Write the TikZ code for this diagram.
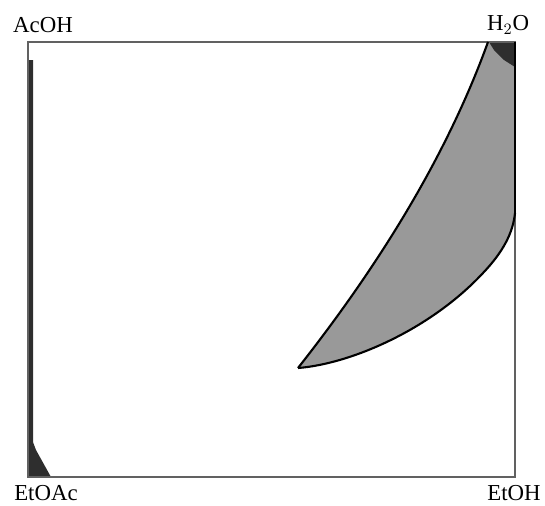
\documentclass[tikz,border=0pt]{standalone}
\usepackage{fontspec}
\setmainfont{Liberation Serif}
\begin{document}
\begin{tikzpicture}[x=0.02cm, y=-0.02cm, font=\fontsize{13}{15}\selectfont,
      frame/.style={draw=black!62, line width=1.1pt},
      region/.style={fill=black!40},
      edge/.style={draw=black, line width=1.2pt, line join=round},
      dark/.style={fill=black!82}]
    \useasboundingbox (0,0) rectangle (545,505);
    \coordinate (tl) at (28,42);
    \coordinate (br) at (515,477);
    \coordinate (tip) at (298,368);
    \coordinate (top) at (488,42);
    \coordinate (bend) at (483,273);
    \coordinate (side) at (515,213);
    \fill[region] (tip) .. controls (387,255) and (450,147) .. (top)
      -- (515,42) -- (side)
      .. controls (513,233) and (503,252) .. (bend)
      .. controls (430,330) and (350,364) .. (tip) -- cycle;
    \fill[dark] (489,42) -- (515,42) -- (515,67) -- (504,60) -- (494,50) -- cycle;
    \fill[dark] (28,60) -- (33,60) -- (33,442) -- (36,450) -- (51,477) -- (28,477) -- cycle;
    \draw[frame] (tl) rectangle (br);
    \draw[edge] (tip) .. controls (387,255) and (450,147) .. (top);
    \draw[edge] (side) .. controls (513,233) and (503,252) .. (bend)
      .. controls (430,330) and (350,364) .. (tip);
    \draw[edge] (515,42) -- (side);
    \node (acoh)  at (43,25)  {AcOH};
    \node (water) at (508,25) {H$_2$O};
    \node (etoac) at (46,493) {EtOAc};
    \node (etoh)  at (514,493) {EtOH};
  \end{tikzpicture}
\end{document}
